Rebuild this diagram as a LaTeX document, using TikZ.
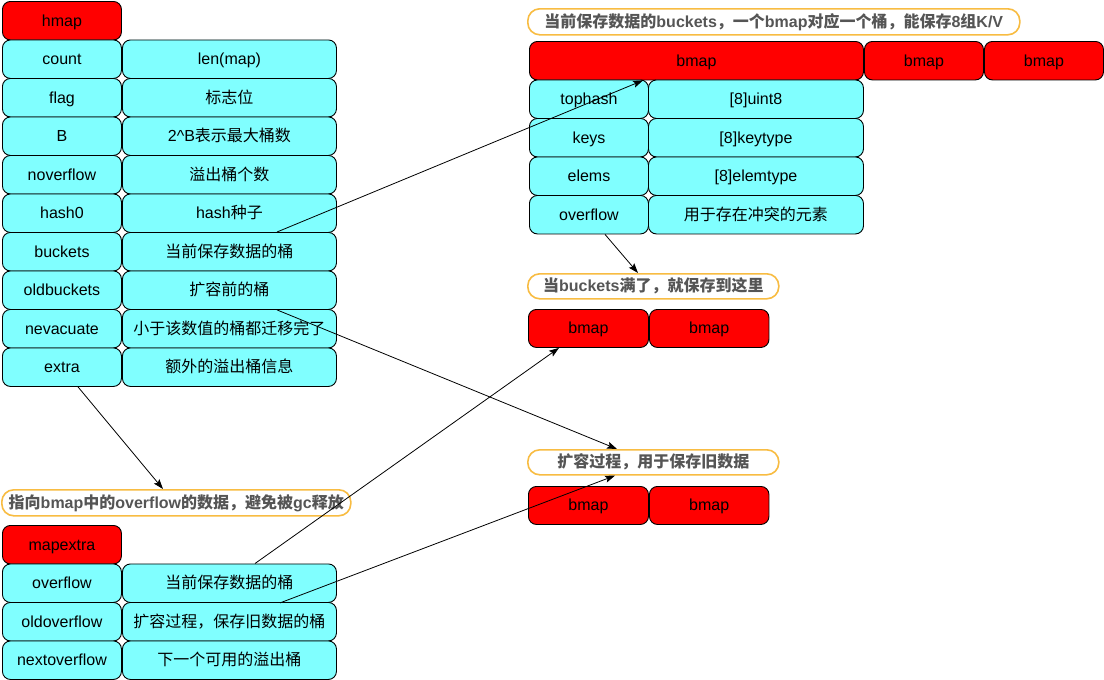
\documentclass[tikz,border=0pt]{standalone}
\usepackage{fontspec}
\setmainfont{Liberation Sans}
\newfontfamily\cjk{Noto Sans CJK SC}
\usetikzlibrary{calc,arrows.meta}
\definecolor{cellfill}{RGB}{128,255,255}
\definecolor{hdrfill}{RGB}{255,0,0}
\definecolor{noteline}{RGB}{248,188,66}
\definecolor{notetext}{RGB}{85,85,85}
\newcommand\zhtxt[1]{{\cjk #1}}

\begin{document}
\begin{tikzpicture}[x=1pt,y=-1pt,
  box/.style={draw=black, line width=0.9pt, rounded corners=8pt, inner sep=0pt,
    anchor=north west, font=\fontsize{16}{19}\selectfont, text=black,
    text height=14.5pt, text depth=3.5pt},
  cell/.style={box, fill=cellfill},
  hdr/.style={box, fill=hdrfill},
  note/.style={draw=noteline, line width=1.6pt, rounded corners=12pt, fill=white,
    inner sep=0pt, anchor=north west, text=notetext,
    font=\fontsize{16}{19}\selectfont\bfseries,
    text height=14.5pt, text depth=3.5pt},
  link/.style={draw=black, line width=0.8pt,
    -{Stealth[length=10pt,width=7pt,inset=2pt]}}]

\fill[white] (0,0) rectangle (1104,680);
\useasboundingbox (0,0) rectangle (1104,680);

% ---- hmap ----
\node[hdr, minimum width=119pt, minimum height=38.5pt] (hmap) at (2,1) {hmap};
\node[cell, minimum width=119pt, minimum height=38.5pt] (countk) at (2,39.5) {count};
\node[cell, minimum width=214pt, minimum height=38.5pt] (countv) at (122,39.5) {len(map)};
\node[cell, minimum width=119pt, minimum height=38.5pt] (flagk) at (2,78) {flag};
\node[cell, minimum width=214pt, minimum height=38.5pt] (flagv) at (122,78) {\zhtxt{标志位}};
\node[cell, minimum width=119pt, minimum height=38.5pt] (bk) at (2,116.5) {B};
\node[cell, minimum width=214pt, minimum height=38.5pt] (bv) at (122,116.5) {2\textasciicircum B\zhtxt{表示最大桶数}};
\node[cell, minimum width=119pt, minimum height=38.5pt] (novk) at (2,155) {noverflow};
\node[cell, minimum width=214pt, minimum height=38.5pt] (novv) at (122,155) {\zhtxt{溢出桶个数}};
\node[cell, minimum width=119pt, minimum height=38.5pt] (hashk) at (2,193.5) {hash0};
\node[cell, minimum width=214pt, minimum height=38.5pt] (hashv) at (122,193.5) {hash\zhtxt{种子}};
\node[cell, minimum width=119pt, minimum height=38.5pt] (bucketsk) at (2,232) {buckets};
\node[cell, minimum width=214pt, minimum height=38.5pt] (bucketsv) at (122,232) {\zhtxt{当前保存数据的桶}};
\node[cell, minimum width=119pt, minimum height=38.5pt] (oldk) at (2,270.5) {oldbuckets};
\node[cell, minimum width=214pt, minimum height=38.5pt] (oldv) at (122,270.5) {\zhtxt{扩容前的桶}};
\node[cell, minimum width=119pt, minimum height=38.5pt] (nevk) at (2,309) {nevacuate};
\node[cell, minimum width=214pt, minimum height=38.5pt] (nevv) at (122,309) {\zhtxt{小于该数值的桶都迁移完了}};
\node[cell, minimum width=119pt, minimum height=38.5pt] (extk) at (2,347.5) {extra};
\node[cell, minimum width=214pt, minimum height=38.5pt] (extv) at (122,347.5) {\zhtxt{额外的溢出桶信息}};

% ---- mapextra ----
\node[note, minimum width=349pt, minimum height=26pt] (noteExtra) at (1,489)
  {\zhtxt{指向}bmap\zhtxt{中的}overflow\zhtxt{的数据，避免被}gc\zhtxt{释放}};
\node[hdr, minimum width=119pt, minimum height=38.5pt] (mapextra) at (2,525) {mapextra};
\node[cell, minimum width=119pt, minimum height=38.5pt] (ovk) at (2,563.5) {overflow};
\node[cell, minimum width=214pt, minimum height=38.5pt] (ovv) at (122,563.5) {\zhtxt{当前保存数据的桶}};
\node[cell, minimum width=119pt, minimum height=38.5pt] (oovk) at (2,602) {oldoverflow};
\node[cell, minimum width=214pt, minimum height=38.5pt] (oovv) at (122,602) {\zhtxt{扩容过程，保存旧数据的桶}};
\node[cell, minimum width=119pt, minimum height=38.5pt] (novfk) at (2,640.5) {nextoverflow};
\node[cell, minimum width=214pt, minimum height=38.5pt] (novfv) at (122,640.5) {\zhtxt{下一个可用的溢出桶}};

% ---- buckets array ----
\node[note, minimum width=492pt, minimum height=26pt] (noteBuckets) at (527,8)
  {\zhtxt{当前保存数据的}buckets\zhtxt{，一个}bmap\zhtxt{对应一个桶，能保存}8\zhtxt{组}K/V};
\node[hdr, minimum width=334pt, minimum height=38.5pt] (bmapA) at (529,41) {bmap};
\node[hdr, minimum width=119pt, minimum height=38.5pt] (bmapB) at (864,41) {bmap};
\node[hdr, minimum width=119pt, minimum height=38.5pt] (bmapC) at (984,41) {bmap};
\node[cell, minimum width=119pt, minimum height=38.5pt] (tophk) at (529,79.5) {tophash};
\node[cell, minimum width=215pt, minimum height=38.5pt] (tophv) at (648,79.5) {[8]uint8};
\node[cell, minimum width=119pt, minimum height=38.5pt] (keysk) at (529,118) {keys};
\node[cell, minimum width=215pt, minimum height=38.5pt] (keysv) at (648,118) {[8]keytype};
\node[cell, minimum width=119pt, minimum height=38.5pt] (elemsk) at (529,156.5) {elems};
\node[cell, minimum width=215pt, minimum height=38.5pt] (elemsv) at (648,156.5) {[8]elemtype};
\node[cell, minimum width=119pt, minimum height=38.5pt] (rovk) at (529,195) {overflow};
\node[cell, minimum width=215pt, minimum height=38.5pt] (rovv) at (648,195) {\zhtxt{用于存在冲突的元素}};

% ---- overflow buckets ----
\node[note, minimum width=251pt, minimum height=25pt] (noteOverflow) at (527,273)
  {\zhtxt{当}buckets\zhtxt{满了，就保存到这里}};
\node[hdr, minimum width=120pt, minimum height=38pt] (ovbmapA) at (528,309) {bmap};
\node[hdr, minimum width=119.5pt, minimum height=38pt] (ovbmapB) at (649,309) {bmap};

% ---- old buckets ----
\node[note, minimum width=251pt, minimum height=25pt] (noteOld) at (527,449)
  {\zhtxt{扩容过程，用于保存旧数据}};
\node[hdr, minimum width=120pt, minimum height=38pt] (oldbmapA) at (528,486) {bmap};
\node[hdr, minimum width=119.5pt, minimum height=38pt] (oldbmapB) at (649,486) {bmap};

% ---- pointers ----
\draw[link] ($(bucketsv.north west)+(155,0)$) -- ($(bmapA.south west)+(114,0)$);
\draw[link] ($(oldv.south west)+(155,0)$) -- ($(noteOld.north west)+(90,0)$);
\draw[link] ($(rovk.south west)+(76,0)$) -- ($(noteOverflow.north west)+(111,0)$);
\draw[link] ($(extk.south west)+(76,0)$) -- ($(noteExtra.north west)+(162,0)$);
\draw[link] ($(ovv.north west)+(133,0)$) -- ($(ovbmapA.south west)+(31,0)$);
\draw[link] ($(ovv.south west)+(158,0)$) -- ($(noteOld.south west)+(88,0)$);
\end{tikzpicture}
\end{document}
